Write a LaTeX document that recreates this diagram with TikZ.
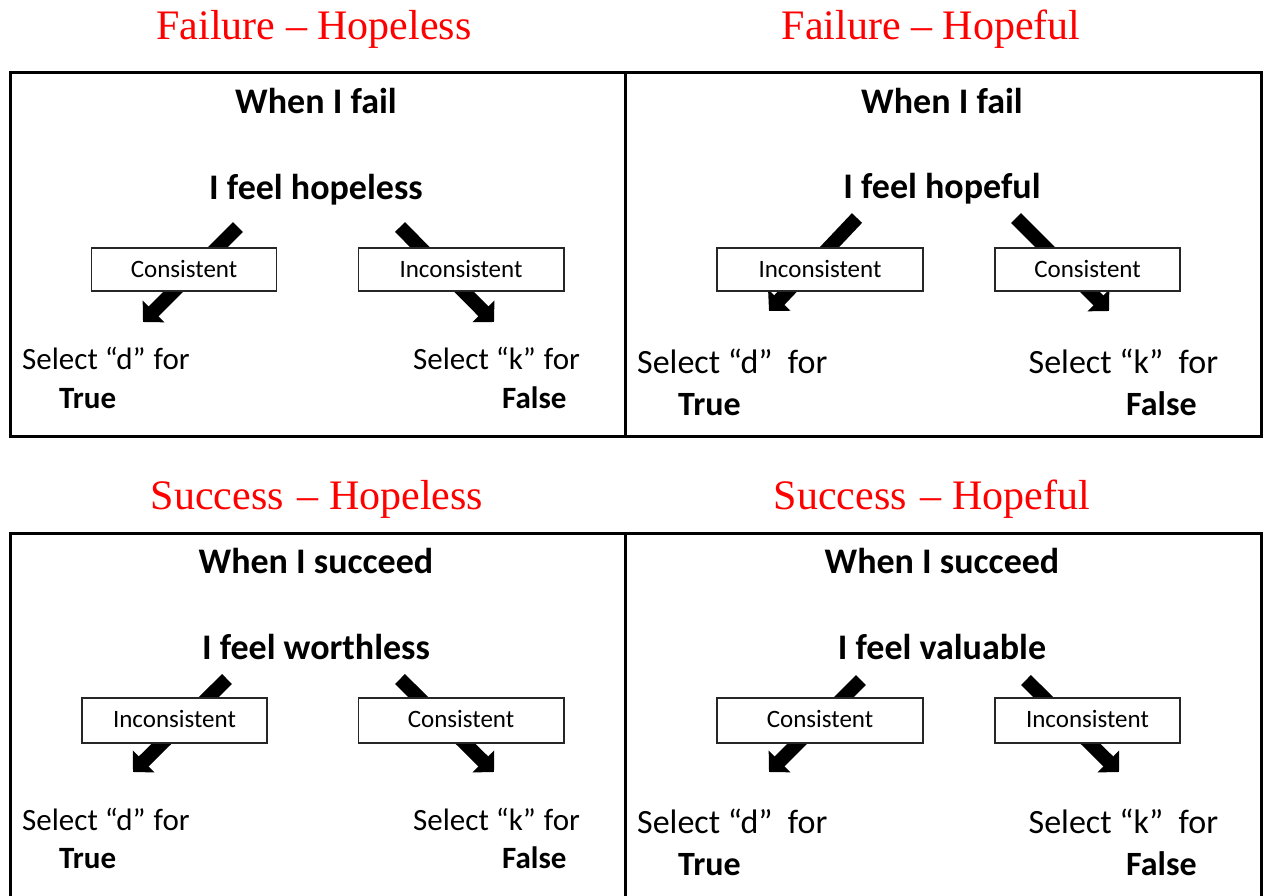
\documentclass[tikz,border=0pt]{standalone}
\usepackage{fontspec}
\setmainfont{Carlito}
\newfontfamily\titlefont{Liberation Serif}
\usetikzlibrary{arrows.meta}
\definecolor{titlered}{RGB}{255,0,0}
\tikzset{
  x=1pt, y=-1pt,
  panel/.style={line width=3pt, draw=black},
  ttl/.style={anchor=base, text=titlered, font=\titlefont\fontsize{42}{42}\selectfont, inner sep=0pt},
  headA/.style={anchor=base, font=\bfseries\fontsize{36}{36}\selectfont, inner sep=0pt},
  selS/.style={anchor=base west, font=\fontsize{31}{31}\selectfont, inner sep=0pt},
  selB/.style={anchor=base west, font=\bfseries\fontsize{31}{31}\selectfont, inner sep=0pt},
  selSL/.style={anchor=base west, font=\fontsize{34}{34}\selectfont, inner sep=0pt},
  selBL/.style={anchor=base west, font=\bfseries\fontsize{34}{34}\selectfont, inner sep=0pt},
  lblbox/.style={draw=black!85, line width=1.3pt, fill=white},
  lbl/.style={anchor=base, font=\fontsize{25}{25}\selectfont, inner sep=0pt},
  bigarrow/.style={line width=14pt, -{Triangle[width=30pt,length=15pt]}, black},
}
\begin{document}
\begin{tikzpicture}
\useasboundingbox (0,0) rectangle (1267,895);
% titles
\node[ttl] (t1) at (314,39.5) {Failure – Hopeless};
\node[ttl] (t2) at (931,39.5) {Failure – Hopeful};
\node[ttl] (t3) at (317,509.5) {Success\hspace{14pt}– Hopeless};
\node[ttl] (t4) at (932,509.5) {Success\hspace{14pt}– Hopeful};
% panels
\draw[panel] (10,72.5) rectangle (1261,436);
\draw[panel] (625,72.5) -- (625,436);
\draw[panel] (10,900) -- (10,533.5) -- (1261,533.5) -- (1261,900);
\draw[panel] (625,533.5) -- (625,900);

% ---------- top-left ----------
\node[headA] (h1) at (316,113) {When I fail};
\node[headA] (f1) at (316,199) {I feel hopeless};
\coordinate (a1s) at (238,227); \coordinate (a1e) at (143,322);
\coordinate (a2s) at (400,227); \coordinate (a2e) at (494,322);
\draw[bigarrow] (a1s) -- (a1e);
\draw[bigarrow] (a2s) -- (a2e);
\draw[lblbox] (91.5,248) rectangle (276.5,291);
\draw[lblbox] (358.5,248) rectangle (564,291);
\node[lbl] (c1) at (184,277) {Consistent};
\node[lbl] (i1) at (461,277) {Inconsistent};
\node[selS] (s1) at (22,369) {Select “d” \hspace{1pt}for};
\node[selB] (b1) at (59,408) {True};
\node[selS] (s2) at (413,369) {Select “k” \hspace{1pt}for};
\node[selB] (b2) at (502,408) {False};

% ---------- top-right ----------
\node[headA] (h2) at (942,113) {When I fail};
\node[headA] (f2) at (942,198) {I feel hopeful};
\coordinate (a3s) at (857,218); \coordinate (a3e) at (769,311);
\coordinate (a4s) at (1016,218); \coordinate (a4e) at (1109,311);
\draw[bigarrow] (a3s) -- (a3e);
\draw[bigarrow] (a4s) -- (a4e);
\draw[lblbox] (717,248) rectangle (923,291);
\draw[lblbox] (995,248) rectangle (1180,291);
\node[lbl] (i2) at (820,277) {Inconsistent};
\node[lbl] (c2) at (1087.5,277) {Consistent};
\node[selSL] (s3) at (637,373) {Select “d”\ \ for};
\node[selBL] (b3) at (678,415) {True};
\node[selSL] (s4) at (1028.5,373) {Select “k”\ \ for};
\node[selBL] (b4) at (1126,415) {False};

% ---------- bottom-left ----------
\node[headA] (h3) at (316,573) {When I succeed};
\node[headA] (f3) at (316,659) {I feel worthless};
\coordinate (a5s) at (227,679); \coordinate (a5e) at (133,772);
\coordinate (a6s) at (400,679); \coordinate (a6e) at (494,772);
\draw[bigarrow] (a5s) -- (a5e);
\draw[bigarrow] (a6s) -- (a6e);
\draw[lblbox] (82,698) rectangle (267,743);
\draw[lblbox] (358.5,698) rectangle (564,743);
\node[lbl] (i3) at (174.5,727) {Inconsistent};
\node[lbl] (c3) at (461,727) {Consistent};
\node[selS] (s5) at (22,830) {Select “d” \hspace{1pt}for};
\node[selB] (b5) at (59,868) {True};
\node[selS] (s6) at (413,830) {Select “k” \hspace{1pt}for};
\node[selB] (b6) at (502,868) {False};

% ---------- bottom-right ----------
\node[headA] (h4) at (942,573) {When I succeed};
\node[headA] (f4) at (942,659) {I feel valuable};
\coordinate (a7s) at (861,680); \coordinate (a7e) at (769,772);
\coordinate (a8s) at (1026,680); \coordinate (a8e) at (1119,772);
\draw[bigarrow] (a7s) -- (a7e);
\draw[bigarrow] (a8s) -- (a8e);
\draw[lblbox] (717,698) rectangle (923,743);
\draw[lblbox] (995,698) rectangle (1180,743);
\node[lbl] (c4) at (820,727) {Consistent};
\node[lbl] (i4) at (1087.5,727) {Inconsistent};
\node[selSL] (s7) at (637,833) {Select “d”\ \ for};
\node[selBL] (b7) at (678,875) {True};
\node[selSL] (s8) at (1028.5,833) {Select “k”\ \ for};
\node[selBL] (b8) at (1126,875) {False};
\end{tikzpicture}
\end{document}
